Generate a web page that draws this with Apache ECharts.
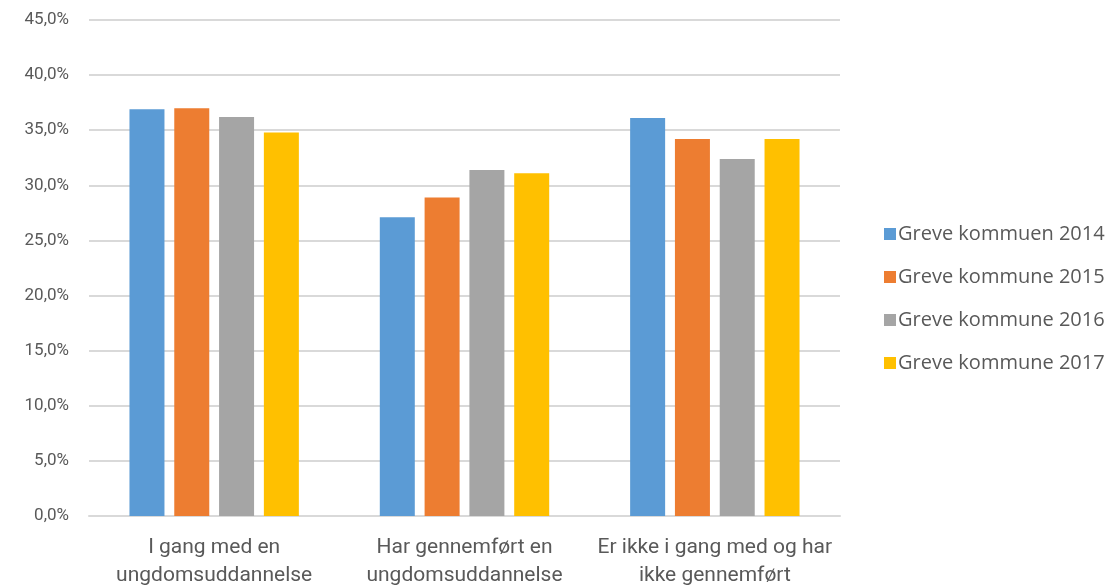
<!DOCTYPE html>
<html>
<head>
<meta charset="utf-8">
<script src="https://cdn.jsdelivr.net/npm/echarts@6/dist/echarts.min.js"></script>
<style>
  html, body { margin: 0; padding: 0; background: #fff; }
  #chart { width: 1109px; height: 585px; }
</style>
</head>
<body>
<div id="chart"></div>
<script>
// categories and series values (percent)
const categories = [
  "I gang med en\nungdomsuddannelse",
  "Har gennemført en\nungdomsuddannelse",
  "Er ikke i gang med og har\nikke gennemført"
];
const seriesNames = [
  "Greve kommuen 2014",
  "Greve kommune 2015",
  "Greve kommune 2016",
  "Greve kommune 2017"
];
const values2014 = [36.9, 27.1, 36.1];
const values2015 = [37.0, 28.9, 34.2];
const values2016 = [36.2, 31.4, 32.4];
const values2017 = [34.8, 31.1, 34.2];
const colors = ["#5b9bd5", "#ed7d31", "#a5a5a5", "#ffc000"];

const labelFont = 'Roboto, "Liberation Sans", sans-serif';

const chart = echarts.init(document.getElementById('chart'));
const allValues = [values2014, values2015, values2016, values2017];

chart.setOption({
  animation: false,
  backgroundColor: '#ffffff',
  color: colors,
  grid: { left: 89, right: 269, top: 20, bottom: 69, outerBoundsMode: 'none', containLabel: false },
  legend: {
    orient: 'vertical',
    left: 879,
    top: 219,
    itemWidth: 12,
    itemHeight: 12,
    itemGap: 23,
    icon: 'rect',
    textStyle: { color: '#595959', fontSize: 20, fontFamily: '"Open Sans", sans-serif', padding: [0, 0, 0, -3] },
    data: seriesNames
  },
  xAxis: {
    type: 'category',
    data: categories,
    axisLine: { lineStyle: { color: '#d9d9d9', width: 2 } },
    axisTick: { show: false },
    axisLabel: {
      color: '#595959',
      fontSize: 21,
      fontFamily: labelFont,
      lineHeight: 28,
      margin: 18,
      interval: 0
    }
  },
  yAxis: {
    type: 'value',
    min: 0,
    max: 45,
    interval: 5,
    axisLine: { show: false },
    axisTick: { show: false },
    splitLine: { lineStyle: { color: '#d9d9d9', width: 2 } },
    axisLabel: {
      color: '#595959',
      fontSize: 17,
      fontFamily: labelFont,
      margin: 20,
      formatter: v => v.toFixed(1).replace('.', ',') + '%'
    }
  },
  series: seriesNames.map((name, i) => ({
    name: name,
    type: 'bar',
    data: allValues[i],
    barWidth: 35,
    barGap: '28%',
    barCategoryGap: '32%'
  }))
});
</script>
</body>
</html>
